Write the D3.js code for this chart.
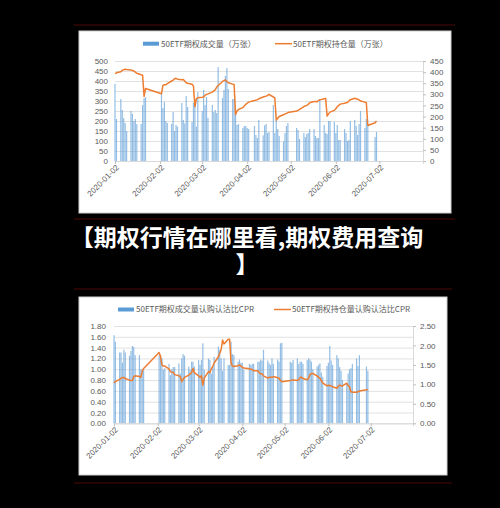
<!DOCTYPE html>
<html><head><meta charset="utf-8">
<script src="https://cdn.jsdelivr.net/npm/d3@7"></script>
<style>
html,body{margin:0;padding:0;background:#000;}
#wrap{position:relative;width:500px;height:508px;}
svg{display:block;position:absolute;left:0;top:0;}
.tl{position:absolute;width:500px;text-align:center;color:#fff;font-family:'Noto Sans CJK SC',sans-serif;
  font-weight:700;font-size:23px;line-height:27px;white-space:nowrap;}
</style></head><body>
<div id="wrap"><svg id="c" width="500" height="508"></svg></div>
<script>
// ---- data ----
const dates = [
"01-02","01-03","01-06","01-07","01-08","01-09","01-10","01-13","01-14","01-15","01-16","01-17","01-20","01-21","01-22","01-23",
"02-03","02-04","02-05","02-06","02-07","02-10","02-11","02-12","02-13","02-14","02-17","02-18","02-19","02-20","02-21","02-24","02-25","02-26","02-27","02-28",
"03-02","03-03","03-04","03-05","03-06","03-09","03-10","03-11","03-12","03-13","03-16","03-17","03-18","03-19","03-20","03-23","03-24","03-25","03-26","03-27","03-30","03-31",
"04-01","04-02","04-03","04-07","04-08","04-09","04-10","04-13","04-14","04-15","04-16","04-17","04-20","04-21","04-22","04-23","04-24","04-27","04-28","04-29","04-30",
"05-06","05-07","05-08","05-11","05-12","05-13","05-14","05-15","05-18","05-19","05-20","05-21","05-22","05-25","05-26","05-27","05-28","05-29",
"06-01","06-02","06-03","06-04","06-05","06-08","06-09","06-10","06-11","06-12","06-15","06-16","06-17","06-18","06-19","06-22","06-23","06-24","06-29","06-30"];
const volume = [
385,210,310,255,215,190,150,250,235,200,210,185,185,280,315,320,
335,265,295,200,190,185,245,150,180,172,290,205,188,325,270,195,290,310,172,345,
250,355,280,320,216,280,245,255,240,470,315,355,425,465,360,310,310,240,180,185,165,175,
175,165,160,175,130,115,205,128,178,185,140,145,280,140,205,160,125,98,140,175,190,
165,155,110,140,120,135,140,160,160,125,115,115,310,180,140,135,200,200,
195,140,180,105,105,160,140,100,105,200,205,175,130,185,250,165,210,175,120,145];
const openInterest = [
393,397,402,408,411,413,412,410,407,405,400,395,388,386,291,326,
303,340,343,343,348,360,364,370,372,368,366,367,360,352,350,345,338,244,280,285,
287,288,296,300,302,310,316,320,333,340,358,362,365,358,352,346,343,209,225,232,240,248,
255,260,265,272,274,276,280,288,290,292,295,300,288,284,184,192,200,208,212,214,218,
225,228,232,245,248,250,255,262,268,268,266,272,275,280,281,202,212,220,
228,235,245,250,256,260,262,263,270,276,282,280,278,275,270,265,262,160,172,180];
const volumeCPR = [
1.63,1.51,1.31,1.31,1.12,1.36,1.31,1.25,1.34,1.43,1.41,1.26,1.26,1.00,1.00,0.98,
1.26,1.25,1.20,0.99,1.02,1.10,0.89,1.00,1.04,1.04,1.11,0.92,1.20,1.28,1.25,1.05,0.99,1.14,1.14,1.05,
1.17,1.08,1.17,1.48,0.99,1.20,1.17,0.92,1.04,1.23,1.42,1.36,1.20,0.97,1.20,1.08,1.08,1.51,1.28,1.26,1.14,1.18,
1.12,1.12,0.99,1.10,1.08,1.10,1.10,1.14,1.14,1.18,1.16,1.36,1.16,1.11,1.08,1.20,1.10,1.18,1.14,1.48,1.49,
1.14,1.12,1.17,1.20,1.10,1.14,1.14,1.10,1.17,1.20,1.18,1.14,1.00,1.05,1.08,1.11,0.94,0.86,
1.06,1.12,1.43,1.16,1.08,1.26,1.20,1.04,0.97,0.80,0.73,0.92,1.00,1.02,1.10,1.20,1.06,1.26,1.05,0.97];
const oiCPR = [
1.04,1.07,1.13,1.16,1.17,1.18,1.15,1.11,1.10,1.10,1.20,1.22,1.20,1.18,1.33,1.41,
1.82,1.72,1.50,1.47,1.47,1.40,1.33,1.31,1.31,1.25,1.22,1.20,1.07,1.13,1.18,1.24,1.27,1.30,1.41,1.30,
1.22,1.18,1.22,0.98,1.16,1.33,1.30,1.40,1.46,1.55,1.71,1.80,1.90,2.14,2.04,2.16,2.16,1.54,1.47,1.46,1.48,1.50,
1.47,1.44,1.42,1.40,1.39,1.38,1.35,1.35,1.30,1.27,1.27,1.22,1.16,1.18,1.18,1.18,1.20,1.17,1.16,1.10,1.07,
1.10,1.11,1.11,1.10,1.12,1.18,1.18,1.15,1.12,1.16,1.25,1.28,1.28,1.22,1.18,1.16,1.10,1.04,
0.96,0.98,0.97,0.96,0.94,0.90,0.95,0.98,0.96,0.96,1.03,0.97,0.94,0.81,0.80,0.80,0.81,0.83,0.86,0.87];
const xTickLabels = ["2020-01-02","2020-02-02","2020-03-02","2020-04-02","2020-05-02","2020-06-02","2020-07-02"];
const xDomain = ["2020-01-02","2020-08-01"];
const topLeftTicks = [0,50,100,150,200,250,300,350,400,450,500];
const topRightTicks = [0,50,100,150,200,250,300,350,400,450];
const botLeftTicks = [0,0.2,0.4,0.6,0.8,1.0,1.2,1.4,1.6,1.8];
const botRightTicks = [0,0.5,1.0,1.5,2.0,2.5];
const topLegend = ["50ETF期权成交量（万张）","50ETF期权持仓量（万张）"];
const botLegend = ["50ETF期权成交量认购认沽比CPR","50ETF期权持仓量认购认沽比CPR"];
const titleLines = ["【期权行情在哪里看,期权费用查询","】"];

// ---- drawing ----
const parse = d3.timeParse("%Y-%m-%d");
const dateObjs = dates.map(d => parse("2020-" + d));
const FONT = "'Noto Sans CJK SC','Noto Sans',sans-serif";
const NUMFONT = "'Liberation Sans',Arial,sans-serif";
const BLUE = "#5b9bd5", ORANGE = "#ed7d31", TXT = "#595959", GRID = "#d9d9d9";
const svg = d3.select("#c");
svg.append("rect").attr("width",500).attr("height",508).attr("fill","#000");

// dark red separator lines
[[25,74,455],[219,74,455],[289,74,452],[483,74,452]].forEach(([y,a,b]) =>
  svg.append("line").attr("x1",a).attr("x2",b).attr("y1",y).attr("y2",y)
    .attr("stroke","#4d0808").attr("stroke-width",1.2));

// title: one HTML block, wrapped into two lines
const tdiv = d3.select("#wrap").append("div").attr("class","tl").style("left","-3px").style("top","222.5px");
tdiv.append(() => document.createTextNode(titleLines[0]));
tdiv.append("br");
tdiv.append(() => document.createTextNode(titleLines[1]));

function chart(o){
  const g = svg.append("g");
  g.append("rect").attr("x",o.panel[0]).attr("y",o.panel[1]).attr("width",o.panel[2]).attr("height",o.panel[3])
    .attr("fill","#fff").attr("stroke","#cfcfcf").attr("stroke-width",1);
  const x = d3.scaleTime().domain(xDomain.map(parse)).range([o.x0,o.x1]);
  const yL = d3.scaleLinear().domain([0,o.lMax]).range([o.yB,o.yT]);
  const yR = d3.scaleLinear().domain([0,o.rMax]).range([o.yB,o.yT]);
  // grid
  g.append("g").attr("transform",`translate(${o.x0},0)`)
    .call(d3.axisLeft(yL).tickValues(o.lTicks).tickSize(-(o.x1-o.x0)).tickFormat(""))
    .call(s=>s.select(".domain").remove())
    .call(s=>s.selectAll("line").attr("stroke",GRID).attr("stroke-width",0.8));
  // left labels
  g.append("g").attr("transform",`translate(${o.x0},0)`)
    .call(d3.axisLeft(yL).tickValues(o.lTicks).tickSize(0).tickPadding(o.lPad).tickFormat(o.lFmt))
    .call(s=>s.select(".domain").remove())
    .call(s=>s.selectAll("text").attr("font-family",NUMFONT).attr("font-size",8).attr("fill",TXT));
  // right axis
  g.append("g").attr("transform",`translate(${o.x1},0)`)
    .call(d3.axisRight(yR).tickValues(o.rTicks).tickSize(3).tickPadding(o.rPad).tickFormat(o.rFmt))
    .call(s=>s.select(".domain").attr("stroke",GRID))
    .call(s=>s.selectAll("line").attr("stroke","#bfbfbf"))
    .call(s=>s.selectAll("text").attr("font-family",NUMFONT).attr("font-size",8).attr("fill",TXT));
  // bars
  g.append("g").selectAll("rect").data(o.bars).join("rect")
    .attr("x",(d,i)=>x(dateObjs[i])-0.6).attr("width",1.2)
    .attr("y",d=>yL(d)).attr("height",d=>o.yB-yL(d))
    .attr("fill",BLUE).attr("opacity",0.65);
  // x axis
  const xa = g.append("g").attr("transform",`translate(0,${o.yB})`)
    .call(d3.axisBottom(x).tickValues(xTickLabels.map(parse)).tickSize(3).tickFormat(d3.timeFormat("%Y-%m-%d")));
  xa.select(".domain").attr("stroke",GRID);
  xa.selectAll("line").attr("stroke","#bfbfbf");
  xa.selectAll("text").attr("font-family",NUMFONT).attr("font-size",8).attr("fill",TXT)
    .attr("text-anchor","end").attr("dy","0.35em")
    .attr("transform","translate(2,5) rotate(-45)").attr("y",0).attr("x",0);
  // line
  g.append("path").datum(o.line)
    .attr("d",d3.line().x((d,i)=>x(dateObjs[i])).y(d=>yR(d)))
    .attr("fill","none").attr("stroke",ORANGE).attr("stroke-width",1.5).attr("stroke-linejoin","round");
  // legend
  const L = o.legend;
  g.append("rect").attr("x",L.bx).attr("y",L.y-2).attr("width",16).attr("height",4).attr("fill",BLUE);
  g.append("text").attr("x",L.bx+18).attr("y",L.y).attr("dy","0.35em").attr("font-family",FONT)
    .attr("font-size",8).attr("fill",TXT).text(o.legendText[0]);
  g.append("line").attr("x1",L.lx).attr("x2",L.lx+17).attr("y1",L.y).attr("y2",L.y)
    .attr("stroke",ORANGE).attr("stroke-width",1.5);
  g.append("text").attr("x",L.lx+18).attr("y",L.y).attr("dy","0.35em").attr("font-family",FONT)
    .attr("font-size",8).attr("fill",TXT).text(o.legendText[1]);
}

chart({panel:[79,31,372,182], x0:115, x1:423, yT:61, yB:161, lMax:500, rMax:450,
  lTicks:topLeftTicks, rTicks:topRightTicks, lFmt:d3.format("d"), rFmt:d3.format("d"),
  lPad:7, rPad:4, bars:volume, line:openInterest,
  legend:{bx:143,lx:275,y:43.7}, legendText:topLegend});
chart({panel:[79,297,368,178], x0:114, x1:413, yT:326, yB:423.3, lMax:1.8, rMax:2.5,
  lTicks:botLeftTicks, rTicks:botRightTicks, lFmt:d3.format(".2f"), rFmt:d3.format(".2f"),
  lPad:8, rPad:4, bars:volumeCPR, line:oiCPR,
  legend:{bx:118,lx:274,y:309.5}, legendText:botLegend});
</script>
</body></html>
